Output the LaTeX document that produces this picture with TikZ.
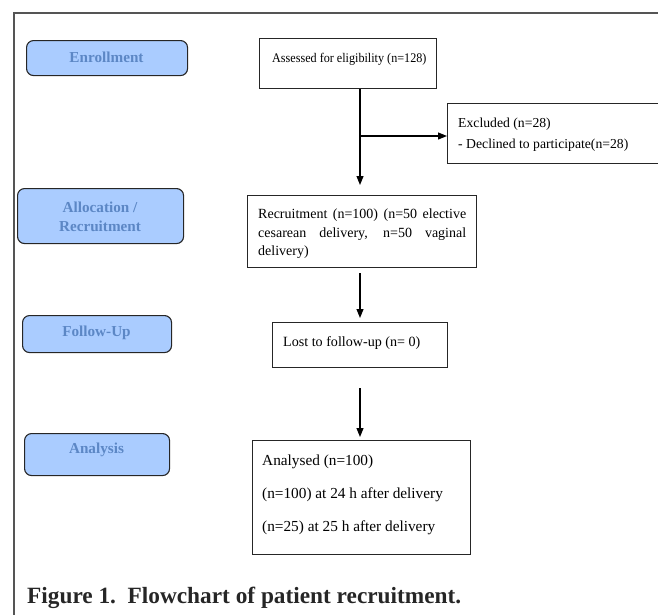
\documentclass[tikz,border=0pt]{standalone}
\usepackage{fontspec}
\setmainfont{Liberation Serif}
\usetikzlibrary{arrows.meta}
\definecolor{phasefill}{RGB}{170,204,255}
\definecolor{phasetext}{RGB}{92,135,197}
\definecolor{framegray}{RGB}{85,85,85}
\begin{document}
\begin{tikzpicture}[x=1pt,y=-1pt,
  phase/.style={draw=black!85, fill=phasefill, rounded corners=7pt, line width=1.1pt, anchor=north west, inner sep=0pt},
  phaselabel/.style={font=\fontsize{15.2}{19}\selectfont\bfseries, text=phasetext, align=center, inner sep=0pt},
  stepbox/.style={draw=black!85, line width=1pt, anchor=north west, inner sep=0pt},
  txt/.style={font=\fontsize{15.3}{18.5}\selectfont, anchor=base west, inner sep=0pt},
  arr/.style={line width=1.1pt, -{Triangle[length=9pt,width=7pt]}}]
\useasboundingbox (0,0) rectangle (658,614);
% frame
\draw[framegray, line width=1.5pt] (662,13) -- (14,13) -- (14,618);
% phase boxes
\node[phase, minimum width=161pt, minimum height=35pt] (enrol) at (26,40) {};
\node[phase, minimum width=166pt, minimum height=55pt] (alloc) at (17,188) {};
\node[phase, minimum width=149pt, minimum height=37pt] (follow) at (22,315) {};
\node[phase, minimum width=145pt, minimum height=42pt] (analysis) at (24,433) {};
\node[phaselabel] (enrolt) at (106.5,57.5) {Enrollment};
\node[phaselabel] (alloct) at (100,217) {Allocation /\\Recruitment};
\node[phaselabel] (followt) at (96.5,333) {Follow-Up};
\node[phaselabel] (analysist) at (96.5,450) {Analysis};
% step boxes
\node[stepbox, minimum width=177pt, minimum height=50pt] (assess) at (259,38) {};
\node[stepbox, minimum width=216pt, minimum height=60pt] (excl) at (447,103) {};
\node[stepbox, minimum width=229pt, minimum height=72pt] (recruit) at (247,195) {};
\node[stepbox, minimum width=175pt, minimum height=45pt] (lost) at (272,322) {};
\node[stepbox, minimum width=218pt, minimum height=114pt] (analysed) at (252,440) {};
% step texts
\node[txt, font=\fontsize{13.2}{15}\selectfont] (assesst) at (272,62) {\scalebox{0.92}[1]{Assessed for eligibility (n=128)}};
\node[txt, font=\fontsize{13.7}{16}\selectfont] (exclt1) at (458,127) {Excluded (n=28)};
\node[txt, font=\fontsize{13.7}{16}\selectfont] (exclt2) at (458,148) {- Declined to participate(n=28)};
\node[txt, font=\fontsize{14}{17}\selectfont] (recrt1) at (258,218) {\makebox[208pt][s]{Recruitment (n=100) (n=50 elective}};
\node[txt, font=\fontsize{14}{17}\selectfont] (recrt2) at (258,237) {\makebox[208pt][s]{cesarean delivery, n=50 vaginal}};
\node[txt, font=\fontsize{14}{17}\selectfont] (recrt3) at (258,255) {delivery)};
\node[txt, font=\fontsize{14.1}{17}\selectfont] (lostt) at (283,346) {Lost to follow-up (n= 0)};
\node[txt] (anat1) at (262,465) {Analysed (n=100)};
\node[txt] (anat2) at (262,498) {(n=100) at 24 h after delivery};
\node[txt] (anat3) at (262,531) {(n=25) at 25 h after delivery};
% connectors
\coordinate (spine) at (360,0);
\coordinate (branch) at (360,136);
\draw[line width=1.1pt] (assess.south -| spine) -- (branch);
\draw[arr, shorten >=10pt] (branch) -- (recruit.north -| spine);
\draw[arr] (branch) -- (branch -| excl.west);
\draw[arr, shorten <=5pt, shorten >=4pt] (recruit.south -| spine) -- (lost.north -| spine);
\draw[arr, shorten <=20pt, shorten >=3pt] (lost.south -| spine) -- (analysed.north -| spine);
% caption
\node[font=\fontsize{23.3}{28}\selectfont\bfseries, text=black!85, anchor=base west, inner sep=0pt] (cap) at (27,603) {Figure 1.\ \ Flowchart of patient recruitment.};
\end{tikzpicture}
\end{document}
